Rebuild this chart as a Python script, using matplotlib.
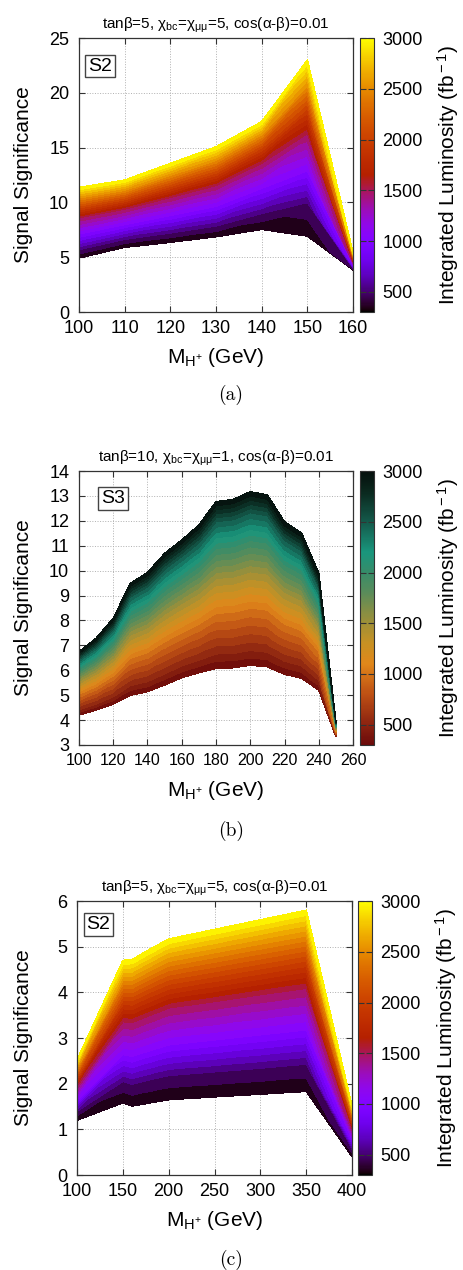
import numpy as np
import matplotlib
matplotlib.use('Agg')
import matplotlib.pyplot as plt
import matplotlib.tri as mtri
from matplotlib.colors import Normalize, LinearSegmentedColormap
from matplotlib.cm import ScalarMappable

plt.rcParams['font.family'] = ['Liberation Sans', 'DejaVu Sans']
plt.rcParams['mathtext.fontset'] = 'custom'
plt.rcParams['mathtext.rm'] = 'Liberation Sans'
plt.rcParams['mathtext.it'] = 'Liberation Sans:italic'
plt.rcParams['mathtext.bf'] = 'Liberation Sans:bold'

# luminosity levels (fb^-1) at which the significance curves were read
lumi_levels = [300, 500, 1000, 1500, 2000, 2500, 3000]

# (a) S2, tanb=5
mass_a = [100, 110, 120, 130, 140, 150, 160]
sig_a = [
    [4.93, 5.90, 6.36, 6.87, 7.54, 6.93, 3.85],
    [5.70, 6.64, 7.22, 7.86, 9.00, 10.00, 4.00],
    [7.12, 7.99, 8.81, 9.66, 11.30, 12.90, 4.30],
    [8.61, 9.40, 10.46, 11.55, 13.60, 16.30, 4.60],
    [9.51, 10.26, 11.47, 12.70, 15.00, 18.60, 4.90],
    [10.41, 11.12, 12.48, 13.85, 16.20, 20.70, 5.15],
    [11.38, 12.04, 13.56, 15.08, 17.37, 23.00, 5.40],
]

# (b) S3, tanb=10
mass_b = [100, 110, 120, 130, 140, 150, 160, 170, 180, 190, 200, 210, 220, 230, 240, 250]
sig_b = [
    [4.20, 4.40, 4.64, 5.00, 5.14, 5.41, 5.70, 5.90, 6.08, 6.10, 6.20, 6.14, 5.84, 5.68, 5.20, 3.33],
    [4.42, 4.65, 4.94, 5.39, 5.55, 5.86, 6.18, 6.41, 6.66, 6.68, 6.80, 6.73, 6.37, 6.18, 5.60, 3.38],
    [5.04, 5.35, 5.78, 6.48, 6.72, 7.15, 7.52, 7.86, 8.29, 8.33, 8.50, 8.42, 7.86, 7.60, 6.75, 3.53],
    [5.57, 5.96, 6.50, 7.42, 7.72, 8.26, 8.69, 9.10, 9.69, 9.75, 9.96, 9.87, 9.14, 8.82, 7.73, 3.65],
    [6.03, 6.47, 7.12, 8.23, 8.58, 9.21, 9.68, 10.17, 10.90, 10.97, 11.22, 11.11, 10.25, 9.87, 8.58, 3.76],
    [6.44, 6.93, 7.67, 8.95, 9.35, 10.06, 10.57, 11.12, 11.97, 12.05, 12.33, 12.21, 11.23, 10.80, 9.33, 3.86],
    [6.74, 7.28, 8.08, 9.49, 9.92, 10.69, 11.23, 11.83, 12.77, 12.86, 13.17, 13.04, 11.96, 11.50, 9.89, 3.93],
]

# (c) S2, tanb=5, heavier masses
mass_c = [100, 150, 160, 180, 200, 250, 300, 350, 400]
sig_c = [
    [1.20, 1.58, 1.51, 1.58, 1.65, 1.71, 1.77, 1.83, 0.40],
    [1.40, 2.05, 1.99, 2.09, 2.18, 2.26, 2.34, 2.43, 0.57],
    [1.65, 2.64, 2.60, 2.73, 2.85, 2.96, 3.07, 3.18, 0.77],
    [1.95, 3.36, 3.34, 3.50, 3.66, 3.80, 3.95, 4.09, 1.03],
    [2.15, 3.83, 3.82, 4.01, 4.18, 4.35, 4.52, 4.69, 1.19],
    [2.34, 4.26, 4.27, 4.48, 4.68, 4.87, 5.06, 5.24, 1.35],
    [2.52, 4.70, 4.72, 4.95, 5.17, 5.38, 5.59, 5.80, 1.50],
]

title_s2 = r"tanβ=5, χ$_{\rm bc}$=χ$_{\rm μμ}$=5, cos(α-β)=0.01"
title_s3 = r"tanβ=10, χ$_{\rm bc}$=χ$_{\rm μμ}$=1, cos(α-β)=0.01"

teal_cmap = LinearSegmentedColormap.from_list('teal', [
    (0.000, '#6b0a0a'), (0.074, '#8c2310'), (0.185, '#be5014'),
    (0.296, '#e1871a'), (0.370, '#c89123'), (0.444, '#a09037'),
    (0.556, '#5a8c5a'), (0.630, '#378c69'), (0.704, '#19967d'),
    (0.815, '#145a4b'), (0.926, '#0a281e'), (1.000, '#050f0c')])


def draw_panel(fig, rect, crect, mass, sig, cmap, xlim, ylim, xticks, yticks,
               title, tag, tagpos, xtick_size=13, ylab_x=-0.168):
    ax = fig.add_axes(rect)
    cax = fig.add_axes(crect)
    norm = Normalize(300, 3000)

    sig = np.asarray(sig, dtype=float)
    nl, nm = sig.shape
    xs = np.tile(np.asarray(mass, dtype=float), nl)
    ys = sig.ravel()
    zs = np.repeat(np.asarray(lumi_levels, dtype=float), nm)
    tris = []
    for j in range(nl - 1):
        for i in range(nm - 1):
            a = j * nm + i
            tris.append([a, a + 1, a + nm + 1])
            tris.append([a, a + nm + 1, a + nm])
    tri = mtri.Triangulation(xs, ys, tris)
    cs = ax.tricontourf(tri, zs, levels=np.arange(300, 3001, 100), cmap=cmap, norm=norm, zorder=2)
    cs.set_edgecolor('face')
    cs.set_linewidth(0.3)

    ax.set_xlim(*xlim)
    ax.set_ylim(*ylim)
    ax.set_xticks(xticks)
    ax.set_yticks(yticks)
    ax.grid(True, linestyle=':', color='#b0b0b0', linewidth=0.7, zorder=1)
    ax.set_axisbelow(True)
    ax.tick_params(direction='in', top=True, right=True, length=4, color='#333333')
    ax.tick_params(axis='y', labelsize=13, pad=7)
    ax.tick_params(axis='x', labelsize=xtick_size, pad=6)
    for s in ax.spines.values():
        s.set_color('#333333')
        s.set_linewidth(0.9)
    ax.set_title(title, fontsize=11, pad=7)
    ax.set_ylabel('Signal Significance', fontsize=15)
    ax.set_xlabel(r'M$_{\rm H^{+}}$ (GeV)', fontsize=15)
    ax.yaxis.set_label_coords(ylab_x, 0.5)
    ax.xaxis.set_label_coords(0.5, -0.125)
    ax.text(tagpos[0], tagpos[1], tag, transform=ax.transAxes, fontsize=14,
            ha='center', va='center', zorder=5,
            bbox=dict(boxstyle='square,pad=0.15', fc='white', ec='#444444', lw=1))

    cb = fig.colorbar(ScalarMappable(norm=norm, cmap=cmap), cax=cax)
    cb.set_ticks([500, 1000, 1500, 2000, 2500, 3000])
    cb.ax.tick_params(direction='in', length=4, labelsize=13, left=True, right=True,
                      color='#333333', pad=6)
    cb.outline.set_edgecolor('#333333')
    cb.outline.set_linewidth(0.8)
    cb.set_label(r'Integrated Luminosity (fb$^{\rm -1}$)', fontsize=15)
    cb.ax.yaxis.set_label_coords(5.4, 0.5)
    return ax


fig = plt.figure(figsize=(4.64, 12.7), dpi=100)

draw_panel(fig, [0.170, 0.7543, 0.591, 0.2157], [0.776, 0.7543, 0.030, 0.2157],
           mass_a, sig_a, 'gnuplot', (100, 160), (0, 25),
           np.arange(100, 161, 10), np.arange(0, 26, 5), title_s2, 'S2', (0.078, 0.898))

draw_panel(fig, [0.170, 0.4134, 0.591, 0.2157], [0.776, 0.4134, 0.030, 0.2157],
           mass_b, sig_b, teal_cmap, (100, 260), (3, 14),
           np.arange(100, 261, 20), np.arange(3, 15, 1), title_s3, 'S3', (0.124, 0.90),
           xtick_size=11.5)

draw_panel(fig, [0.166, 0.0748, 0.593, 0.2157], [0.772, 0.0748, 0.030, 0.2157],
           mass_c, sig_c, 'gnuplot', (100, 400), (0, 6),
           np.arange(100, 401, 50), np.arange(0, 7, 1), title_s2, 'S2', (0.078, 0.914),
           ylab_x=-0.16)

for lab, yy in [('(a)', 0.689), ('(b)', 0.346), ('(c)', 0.008)]:
    fig.text(0.498, yy, lab, family='cmr10', fontsize=14, ha='center', va='center')

fig.savefig('out.png', dpi=100)
